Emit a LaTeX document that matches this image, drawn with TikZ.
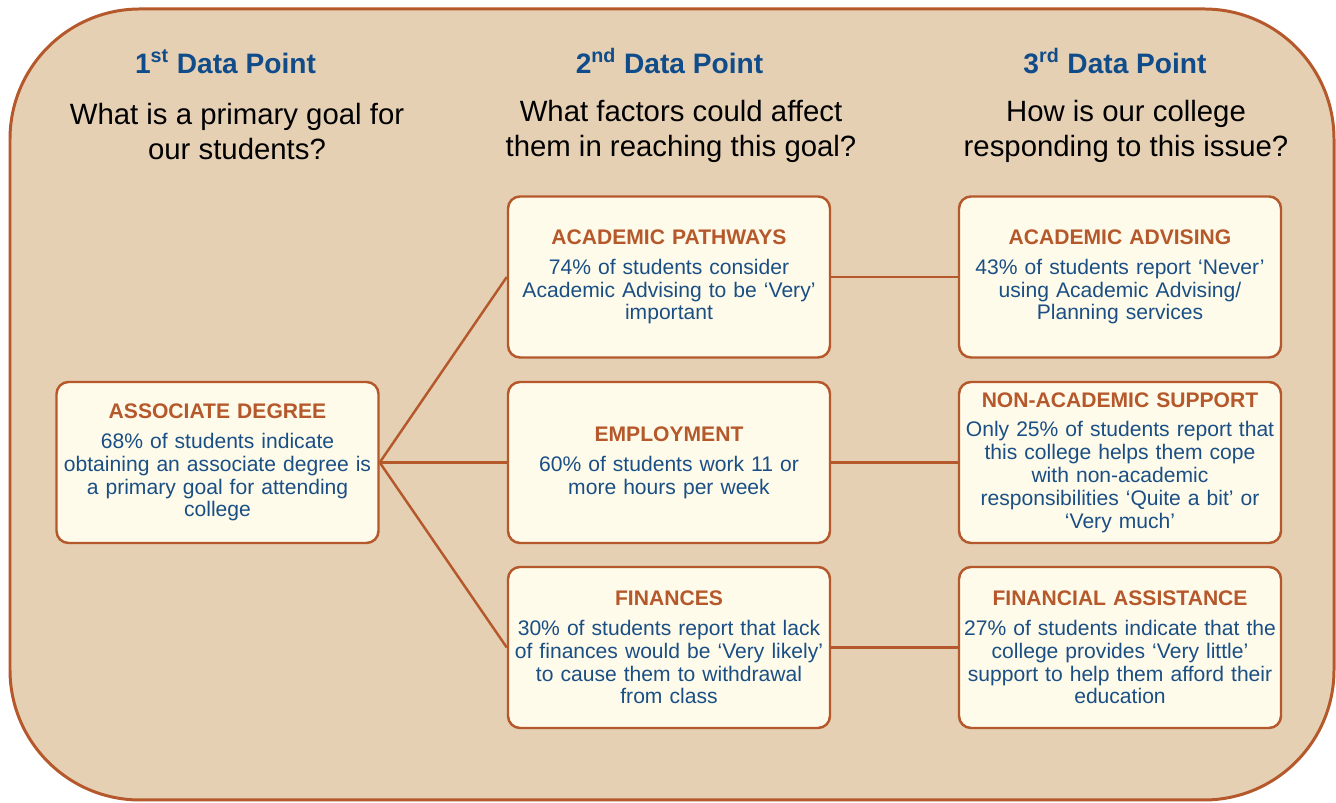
\documentclass[tikz,border=0pt]{standalone}
\usepackage{fontspec}
\setmainfont{Liberation Sans}
\definecolor{tan}{RGB}{229,208,180}
\definecolor{rust}{RGB}{181,88,43}
\definecolor{cream}{RGB}{255,251,234}
\definecolor{navy}{RGB}{16,76,138}
\definecolor{ink}{RGB}{26,79,133}
\newcommand{\boxtext}[2]{{\color{rust}\bfseries #1}\\[4pt]#2}
\begin{document}
\begin{tikzpicture}[
    card/.style={draw=rust, line width=1.4pt, fill=cream, rounded corners=0.24cm,
      minimum width=6.44cm, minimum height=3.22cm, text width=6.36cm, inner sep=1pt,
      align=center, text=ink, font=\fontsize{12}{13}\selectfont},
    heading/.style={text=navy, font=\fontsize{16}{19}\selectfont\bfseries},
    question/.style={align=center, font=\fontsize{16.7}{19.6}\selectfont},
    link/.style={draw=rust, line width=1.4pt}
  ]
  \useasboundingbox (0,0) rectangle (26.72,16.06);
  \draw[draw=rust, line width=1.7pt, fill=tan, rounded corners=2.6cm]
    (0.2,0.06) rectangle (26.68,15.88);
  \draw
    (4.51,14.83) node[heading] (h1){1\textsuperscript{st} Data Point}
    (13.39,14.83) node[heading] (h2){2\textsuperscript{nd} Data Point}
    (22.30,14.83) node[heading] (h3){3\textsuperscript{rd} Data Point}
    (4.74,13.43) node[question] (q1){What is a primary goal for\\our students?}
    (13.62,13.43) node[question] (q2){What factors could affect\\them in reaching this goal?}
    (22.52,13.43) node[question] (q3){How is our college\\responding to this issue?};
  \draw
    (4.35,6.81) node[card] (goal){\boxtext{ASSOCIATE DEGREE}{68\% of students indicate\\obtaining an associate degree is\\a primary goal for attending\\college}}
    (13.38,10.52) node[card] (path){\boxtext{ACADEMIC PATHWAYS}{74\% of students consider\\Academic Advising to be ‘Very’\\important}}
    (13.38,6.81) node[card] (work){\boxtext{EMPLOYMENT}{60\% of students work 11 or\\more hours per week}}
    (13.38,3.11) node[card] (money){\boxtext{FINANCES}{30\% of students report that lack\\of finances would be ‘Very likely’\\to cause them to withdrawal\\from class}}
    (22.40,10.52) node[card] (advise){\boxtext{ACADEMIC ADVISING}{43\% of students report ‘Never’\\using Academic Advising/\\Planning services}}
    (22.40,6.81) node[card] (support){\boxtext{NON-ACADEMIC SUPPORT}{Only 25\% of students report that\\this college helps them cope\\with non-academic\\responsibilities ‘Quite a bit’ or\\‘Very much’}}
    (22.40,3.11) node[card] (aid){\boxtext{FINANCIAL ASSISTANCE}{27\% of students indicate that the\\college provides ‘Very little’\\support to help them afford their\\education}};
  \begin{scope}[link]
    \draw (goal.east) to (path.west);
    \draw (goal.east) to (work.west);
    \draw (goal.east) to (money.west);
    \draw (path) to (advise);
    \draw (work) to (support);
    \draw (money) to (aid);
  \end{scope}
\end{tikzpicture}
\end{document}
